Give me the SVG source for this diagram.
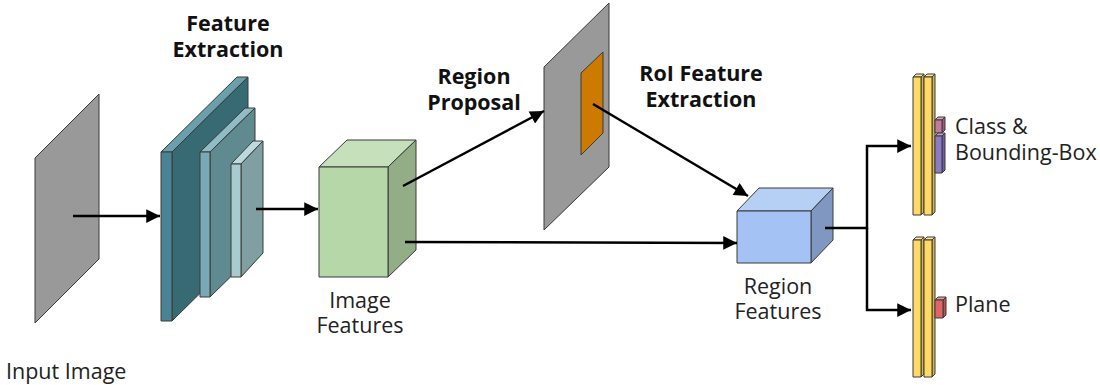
<svg xmlns="http://www.w3.org/2000/svg" width="1100" height="385" viewBox="0 0 1100 385">
<style>
.s{stroke:#3a3a3a;stroke-width:1;stroke-linejoin:round}
.t{font-family:"Open Sans","Noto Sans",sans-serif;font-size:21.5px;fill:#222}
.b{font-family:"Open Sans","Noto Sans",sans-serif;font-size:21.5px;font-weight:bold;fill:#111}
.m{text-anchor:middle}
.c{fill:none;stroke:#000;stroke-width:2.5}
</style>
<defs>
<marker id="ah" viewBox="0 0 10 10" refX="10" refY="5" markerWidth="6.5" markerHeight="5.5" markerUnits="strokeWidth" orient="auto">
<path d="M0,0 L10,5 L0,10 z" fill="#000"/>
</marker>
</defs>
<rect width="1100" height="385" fill="#fff"/>

<g id="input-image">
<polygon class="s" points="35,158 99,94 99,259 35,323" fill="#999999" stroke="#555"/>
<text class="t" x="6" y="379">Input Image</text>
</g>

<g id="feature-extraction">
<polygon class="s" points="161,152 172,152 248,77 237,77" fill="#6aa0ab"/>
<polygon class="s" points="172,152 248,77 248,246 172,321" fill="#376a73"/>
<rect class="s" x="161" y="152" width="11" height="169" fill="#4a8494"/>
<polygon class="s" points="200,152 210,152 255,108 245,108" fill="#8fbcc6"/>
<polygon class="s" points="210,152 255,108 255,253 210,297" fill="#5f8a8f"/>
<rect class="s" x="200" y="152" width="10" height="145" fill="#79a9b6"/>
<polygon class="s" points="231,164 241,164 263,141 253,141" fill="#bcdade"/>
<polygon class="s" points="241,164 263,141 263,253 241,277" fill="#809fa2"/>
<rect class="s" x="231" y="164" width="10" height="113" fill="#a8cbcf"/>
<text class="b m" x="228" y="31">Feature</text>
<text class="b m" x="228" y="57">Extraction</text>
</g>

<g id="image-features">
<polygon class="s" points="319,167 388,167 416,140 347,140" fill="#c6e0bb"/>
<polygon class="s" points="388,167 416,140 416,250 388,277" fill="#93ad86"/>
<rect class="s" x="319" y="167" width="69" height="110" fill="#b6d7a8"/>
<text class="t m" x="360" y="308">Image</text>
<text class="t m" x="360" y="333">Features</text>
</g>

<g id="region-proposal">
<polygon class="s" points="544,67 609,3 609,167 544,230" fill="#999999" stroke="#555"/>
<polygon class="s" points="581,73 603,52 603,133 581,155" fill="#cc7a00"/>
<text class="b m" x="474" y="84">Region</text>
<text class="b m" x="474" y="110">Proposal</text>
</g>

<g id="roi-label">
<text class="b m" x="701" y="81">RoI Feature</text>
<text class="b m" x="701" y="107">Extraction</text>
</g>

<g id="region-features">
<polygon class="s" points="737,211 811,211 833,188 759,188" fill="#b6cff5"/>
<polygon class="s" points="811,211 833,188 833,240 811,263" fill="#7f97c1"/>
<rect class="s" x="737" y="211" width="74" height="52" fill="#a4c2f4"/>
<text class="t m" x="778" y="294">Region</text>
<text class="t m" x="778" y="319">Features</text>
</g>

<g id="class-head">
<polygon class="s" points="913,77 921,77 924,74 916,74" fill="#ffe599"/>
<polygon class="s" points="921,77 924,74 924,212 921,215" fill="#d9b34a"/>
<rect class="s" x="913" y="77" width="8" height="138" fill="#ffd966"/>
<polygon class="s" points="924,77 932,77 935,74 927,74" fill="#ffe599"/>
<polygon class="s" points="932,77 935,74 935,212 932,215" fill="#d9b34a"/>
<rect class="s" x="924" y="77" width="8" height="138" fill="#ffd966"/>
<polygon class="s" points="935,120 942,120 945,117 938,117" fill="#d5a6bd"/>
<polygon class="s" points="942,120 945,117 945,130 942,133" fill="#a6597e"/>
<rect class="s" x="935" y="120" width="7" height="13" fill="#c27ba0"/>
<polygon class="s" points="935,136 942,136 945,133 938,133" fill="#b4a7d6"/>
<polygon class="s" points="942,136 945,133 945,170 942,173" fill="#6f5fa8"/>
<rect class="s" x="935" y="136" width="7" height="37" fill="#8e7cc3"/>
<text class="t" x="955" y="134">Class &amp;</text>
<text class="t" x="955" y="160">Bounding-Box</text>
</g>

<g id="plane-head">
<polygon class="s" points="913,240 921,240 924,237 916,237" fill="#ffe599"/>
<polygon class="s" points="921,240 924,237 924,374 921,377" fill="#d9b34a"/>
<rect class="s" x="913" y="240" width="8" height="137" fill="#ffd966"/>
<polygon class="s" points="924,240 932,240 935,237 927,237" fill="#ffe599"/>
<polygon class="s" points="932,240 935,237 935,374 932,377" fill="#d9b34a"/>
<rect class="s" x="924" y="240" width="8" height="137" fill="#ffd966"/>
<polygon class="s" points="935,300 943,300 946,297 938,297" fill="#ea9999"/>
<polygon class="s" points="943,300 946,297 946,315 943,318" fill="#c04f4f"/>
<rect class="s" x="935" y="300" width="8" height="18" fill="#e06666"/>
<text class="t" x="955" y="312">Plane</text>
</g>

<g id="connectors">
<line class="c" x1="73" y1="216" x2="160" y2="216" marker-end="url(#ah)"/>
<line class="c" x1="256" y1="209" x2="318" y2="209" marker-end="url(#ah)"/>
<line class="c" x1="403" y1="186" x2="544" y2="111" marker-end="url(#ah)"/>
<line class="c" x1="593" y1="104" x2="748" y2="196" marker-end="url(#ah)"/>
<line class="c" x1="405" y1="242" x2="737" y2="243" marker-end="url(#ah)"/>
<path class="c" d="M825,228 H867 V146 H911" marker-end="url(#ah)"/>
<path class="c" d="M867,228 V310 H911" marker-end="url(#ah)"/>
</g>
</svg>
